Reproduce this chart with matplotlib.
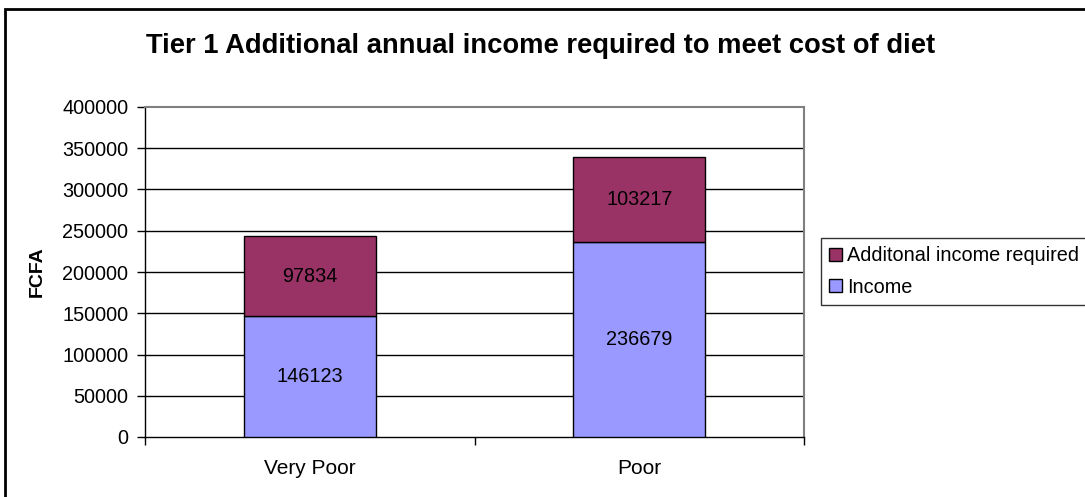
import numpy as np
import matplotlib

matplotlib.use("Agg")
import matplotlib.pyplot as plt
from matplotlib.patches import Rectangle

plt.rcParams["font.family"] = ["Liberation Sans", "DejaVu Sans"]

# Stacked values per income group (FCFA)
groups = ["Very Poor", "Poor"]
income = [146123, 236679]
additional = [97834, 103217]
y_ticks = [0, 50000, 100000, 150000, 200000, 250000, 300000, 350000, 400000]

INCOME_COLOR = "#9999FF"
EXTRA_COLOR = "#993366"
FS = 14.3

fig = plt.figure(figsize=(10.85, 4.97), dpi=100)
ax = fig.add_axes([145 / 1085, 60 / 497, 659 / 1085, 330 / 497])

x = np.arange(len(groups))
b1 = ax.bar(x, income, width=0.4, color=INCOME_COLOR, edgecolor="black",
            linewidth=1.0, label="Income", zorder=3)
b2 = ax.bar(x, additional, width=0.4, bottom=income, color=EXTRA_COLOR,
            edgecolor="black", linewidth=1.0, label="Additonal income required",
            zorder=3)

for xi, lo, hi in zip(x, income, additional):
    ax.text(xi, lo / 2, f"{lo}", ha="center", va="center", fontsize=FS, zorder=4)
    ax.text(xi, lo + hi / 2, f"{hi}", ha="center", va="center", fontsize=FS, zorder=4)

ax.set_xlim(-0.5, len(groups) - 0.5)
ax.set_ylim(0, 400000)
ax.set_yticks(y_ticks)
ax.set_yticklabels([str(v) for v in y_ticks], fontsize=FS)
for v in y_ticks[1:-1]:
    ax.axhline(v, color="black", linewidth=1.0, zorder=1)

# category labels sit between boundary ticks
ax.set_xticks(x)
ax.set_xticklabels(groups, fontsize=15)
ax.tick_params(axis="x", length=0, pad=16)
ax.set_xticks(np.arange(-0.5, len(groups)), minor=True)
ax.tick_params(axis="x", which="minor", length=6, width=1.0, direction="out")
ax.tick_params(axis="y", length=6, width=1.0, direction="out", pad=6)

for side in ("top", "right"):
    ax.spines[side].set_color("#808080")
    ax.spines[side].set_linewidth(1.5)
for side in ("left", "bottom"):
    ax.spines[side].set_color("black")
    ax.spines[side].set_linewidth(1.0)

ax.set_ylabel("FCFA", fontsize=14, fontweight="bold", labelpad=12)

fig.text(0.4985, 1 - 46 / 497, "Tier 1 Additional annual income required to meet cost of diet",
         ha="center", va="center", fontsize=19.7, fontweight="bold")

leg = fig.legend(handles=[b2, b1], loc="upper left",
                 bbox_to_anchor=(821 / 1085, 1 - 238 / 497),
                 frameon=True, fancybox=False, fontsize=FS,
                 handlelength=0.65, handleheight=0.65, handletextpad=0.25,
                 borderpad=0.42, labelspacing=0.62, borderaxespad=0)
leg.get_frame().set_edgecolor("black")
leg.get_frame().set_linewidth(1.0)

# outer chart frame
fig.patches.append(Rectangle((4.5 / 1085, -0.1), 1.2, 1.1 - 8.5 / 497,
                             transform=fig.transFigure, fill=False,
                             edgecolor="black", linewidth=2.0))

fig.savefig("out.png", dpi=100)
